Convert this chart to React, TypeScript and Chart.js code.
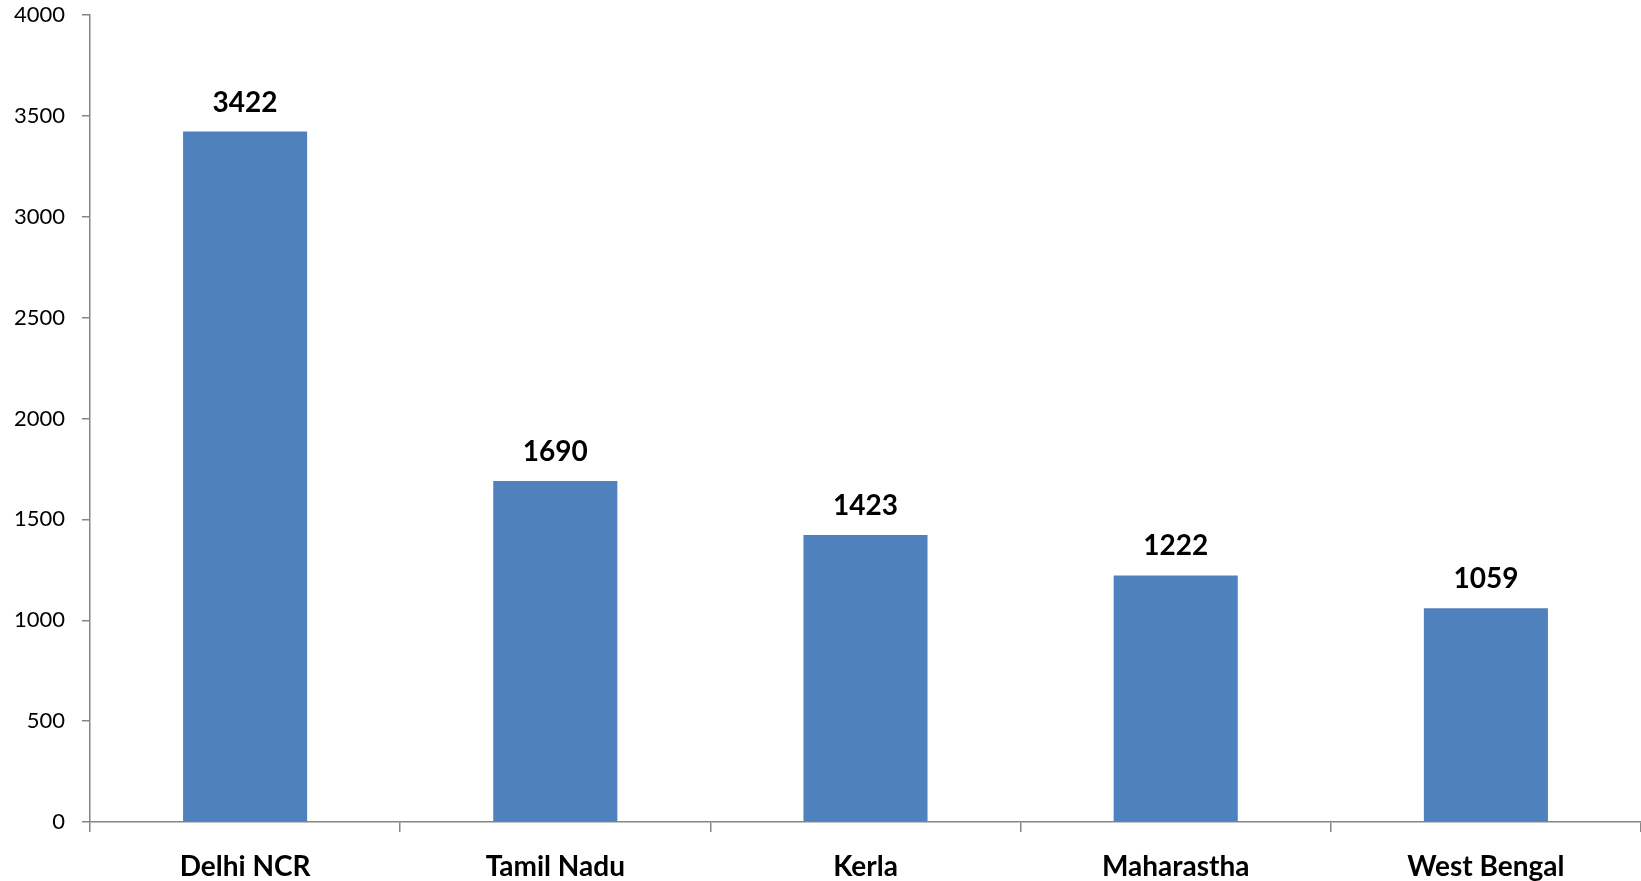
import React, { useEffect, useRef } from "react";
import { Chart, registerables } from "chart.js";

Chart.register(...registerables);

const categories = ["Delhi NCR", "Tamil Nadu", "Kerla", "Maharastha", "West Bengal"];
const values = [3422, 1690, 1423, 1222, 1059];
const yTicks = [0, 500, 1000, 1500, 2000, 2500, 3000, 3500, 4000];

const FONT = "Lato, 'Open Sans', sans-serif";
const AXIS = "#868686";

const dataLabelPlugin = {
  id: "dataLabels",
  afterDatasetsDraw(chart: any) {
    const ctx = chart.ctx;
    const meta = chart.getDatasetMeta(0);
    ctx.save();
    ctx.font = `bold 28px ${FONT}`;
    ctx.fillStyle = "#000";
    ctx.textAlign = "center";
    ctx.textBaseline = "alphabetic";
    meta.data.forEach((el: any, i: number) => {
      ctx.fillText(String(values[i]), el.x, el.y - 20);
    });
    ctx.restore();
  },
};

export default function App() {
  const ref = useRef<HTMLCanvasElement>(null);
  useEffect(() => {
    if (!ref.current) return;
    const chart = new Chart(ref.current, {
      type: "bar",
      data: {
        labels: categories,
        datasets: [
          {
            data: values,
            backgroundColor: "#4F81BD",
            borderWidth: 0,
            categoryPercentage: 0.4,
            barPercentage: 1,
          },
        ],
      },
      options: {
        responsive: true,
        maintainAspectRatio: false,
        animation: false,
        layout: { padding: { top: 15, right: 0, left: 0, bottom: 0 } },
        plugins: { legend: { display: false }, tooltip: { enabled: false } },
        scales: {
          x: {
            offset: true,
            grid: {
              offset: true,
              drawOnChartArea: false,
              drawTicks: true,
              tickLength: 10,
              color: AXIS,
              lineWidth: 1.5,
            },
            border: { color: AXIS, width: 1.5 },
            ticks: {
              color: "#000",
              font: { family: FONT, size: 28, weight: "bold" },
              padding: 18,
              maxRotation: 0,
              autoSkip: false,
            },
            afterFit(scale: any) {
              scale.height = 59;
              scale.paddingLeft = 0;
              scale.paddingRight = 0;
            },
          },
          y: {
            min: 0,
            max: 4000,
            afterBuildTicks(scale: any) {
              scale.ticks = yTicks.map((v) => ({ value: v }));
            },
            grid: {
              drawOnChartArea: false,
              drawTicks: true,
              tickLength: 8,
              color: AXIS,
              lineWidth: 1.5,
            },
            border: { color: AXIS, width: 1.5 },
            ticks: {
              color: "#000",
              font: { family: FONT, size: 22 },
              padding: 17,
              callback: (v: any) => String(v),
            },
            afterFit(scale: any) {
              scale.width = 90;
              scale.paddingTop = 0;
              scale.paddingBottom = 0;
            },
          },
        },
      },
      plugins: [dataLabelPlugin],
    });
    return () => chart.destroy();
  }, []);
  return (
    <div style={{ position: "absolute", left: 0, top: 0, width: 1641, height: 881 }}>
      <canvas ref={ref} />
    </div>
  );
}
